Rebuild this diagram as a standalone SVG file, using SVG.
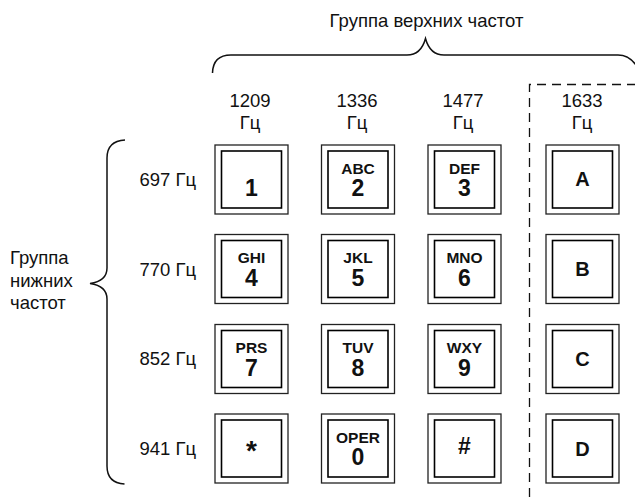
<svg xmlns="http://www.w3.org/2000/svg" width="635" height="497" viewBox="0 0 635 497">
<style>
text{font-family:"Liberation Sans",Arial,sans-serif;fill:#111}
.lbl{font-size:18.5px}
.hdr{font-size:18.5px;text-anchor:middle}
.let{font-size:15.5px;font-weight:bold;text-anchor:middle}
.dig{font-size:23px;font-weight:bold;text-anchor:middle}
.big{font-size:20px;font-weight:bold;text-anchor:middle}
.outer{fill:#fff;stroke:#222;stroke-width:1.3}
.inner{fill:none;stroke:#000;stroke-width:1.6}
.brace{fill:none;stroke:#111;stroke-width:1.5}
.dash{fill:none;stroke:#111;stroke-width:1.3;stroke-dasharray:9 6}
</style>
<defs>
<g id="key"><rect class="outer" x="0" y="0" width="73" height="69"/><rect class="inner" x="6.5" y="6" width="60" height="57"/></g>
</defs>

<g id="top-brace">
<text class="hdr" x="426.5" y="27">Группа верхних частот</text>
<path class="brace" d="M212.5,73 Q213,55 231,55 L407,55 Q421,55 425.5,38.5 Q430,55 444,55 L618,55 Q632,55 640,72"/>
</g>
<g id="left-brace">
<text class="lbl" x="10" y="264">Группа</text>
<text class="lbl" x="10" y="286.5">нижних</text>
<text class="lbl" x="10" y="308.5">частот</text>
<path class="brace" d="M125,140 Q107,141 107,158 L107,268 Q107,281 90,283.5 Q107,286 107,299 L107,466 Q107,483 124.5,484"/>
</g>

<g id="dashed-divider"><path class="dash" d="M529.5,497 L529.5,84.5 L635,84.5"/></g>

<g id="col-headers">
<text class="hdr" x="250" y="107">1209</text><text class="hdr" x="250" y="128.5">Гц</text>
<text class="hdr" x="357" y="107">1336</text><text class="hdr" x="357" y="128.5">Гц</text>
<text class="hdr" x="463" y="107">1477</text><text class="hdr" x="463" y="128.5">Гц</text>
<text class="hdr" x="582" y="107">1633</text><text class="hdr" x="582" y="128.5">Гц</text>
</g>
<g id="row-headers">
<text class="lbl" x="139.5" y="186">697 Гц</text>
<text class="lbl" x="139.5" y="275.5">770 Гц</text>
<text class="lbl" x="139.5" y="365">852 Гц</text>
<text class="lbl" x="139.5" y="454.5">941 Гц</text>
</g>

<g id="key-1"><use href="#key" x="215" y="145"/><text class="dig" x="251.5" y="196">1</text></g>
<g id="key-2"><use href="#key" x="321.5" y="145"/><text class="let" x="358" y="174">ABC</text><text class="dig" x="358" y="196">2</text></g>
<g id="key-3"><use href="#key" x="428" y="145"/><text class="let" x="464.5" y="174">DEF</text><text class="dig" x="464.5" y="196">3</text></g>
<g id="key-A"><use href="#key" x="546" y="145"/><text class="big" x="582.5" y="186">A</text></g>

<g id="key-4"><use href="#key" x="215" y="234.5"/><text class="let" x="251.5" y="263">GHI</text><text class="dig" x="251.5" y="286">4</text></g>
<g id="key-5"><use href="#key" x="321.5" y="234.5"/><text class="let" x="358" y="263">JKL</text><text class="dig" x="358" y="286">5</text></g>
<g id="key-6"><use href="#key" x="428" y="234.5"/><text class="let" x="464.5" y="263">MNO</text><text class="dig" x="464.5" y="286">6</text></g>
<g id="key-B"><use href="#key" x="546" y="234.5"/><text class="big" x="582.5" y="276">B</text></g>

<g id="key-7"><use href="#key" x="215" y="324.5"/><text class="let" x="251.5" y="353">PRS</text><text class="dig" x="251.5" y="375.5">7</text></g>
<g id="key-8"><use href="#key" x="321.5" y="324.5"/><text class="let" x="358" y="353">TUV</text><text class="dig" x="358" y="375.5">8</text></g>
<g id="key-9"><use href="#key" x="428" y="324.5"/><text class="let" x="464.5" y="353">WXY</text><text class="dig" x="464.5" y="375.5">9</text></g>
<g id="key-C"><use href="#key" x="546" y="324.5"/><text class="big" x="582.5" y="366">C</text></g>

<g id="key-star"><use href="#key" x="215" y="414"/><text class="dig" x="251.5" y="460" style="font-size:28px">*</text></g>
<g id="key-0"><use href="#key" x="321.5" y="414"/><text class="let" x="358" y="443">OPER</text><text class="dig" x="358" y="465">0</text></g>
<g id="key-hash"><use href="#key" x="428" y="414"/><text class="dig" x="464.5" y="453.5">#</text></g>
<g id="key-D"><use href="#key" x="546" y="414"/><text class="big" x="582.5" y="455.5">D</text></g>
</svg>
